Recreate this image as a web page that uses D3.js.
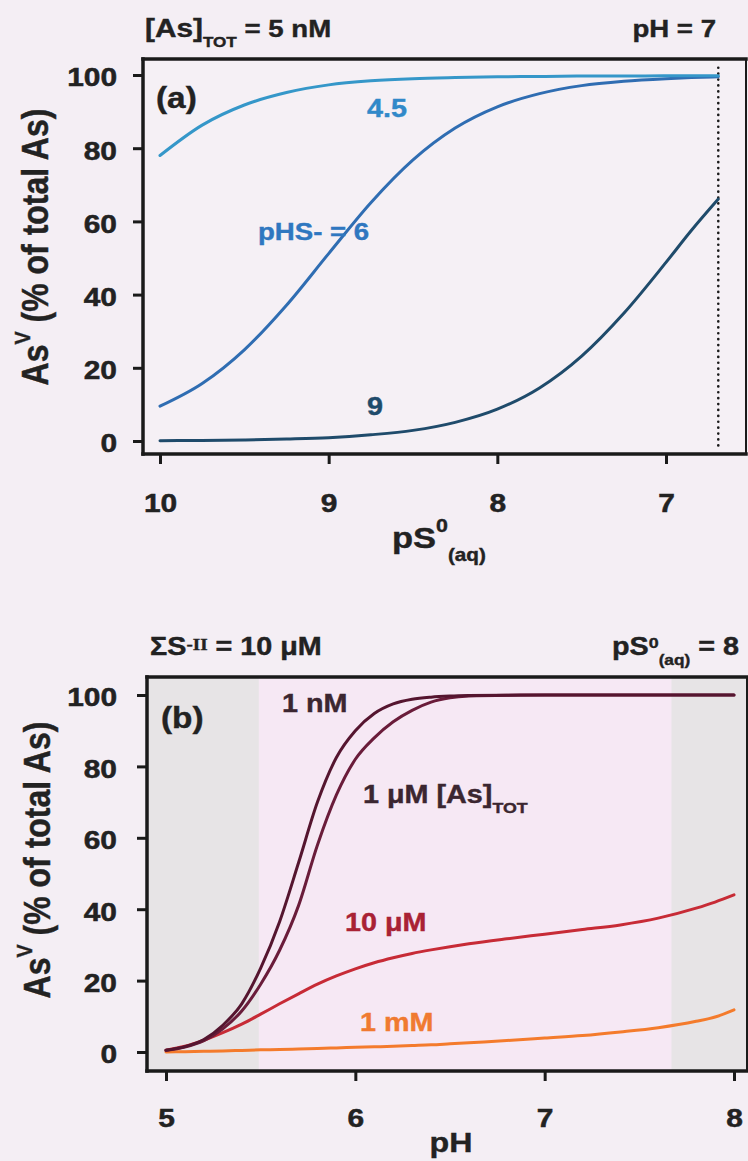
<!DOCTYPE html>
<html>
<head>
<meta charset="utf-8">
<script src="https://cdn.jsdelivr.net/npm/d3@7"></script>
<style>
	body { margin: 0; background: #f4eef4; }
	svg { display: block; font-family: "Liberation Sans", Arial, sans-serif; font-weight: bold; }
</style>
</head>
<body>
<div id="chart"></div>
<script>
// panel (a): AsV vs pS0(aq) at pH 7, three pHS- levels
const pS = [10, 9.75, 9.5, 9.25, 9, 8.75, 8.5, 8.25, 8, 7.75, 7.5, 7.25, 7, 6.85, 6.69];
const asPHS45 = [78.0, 86.3, 91.8, 95.2, 97.3, 98.4, 99.0, 99.3, 99.5, 99.6, 99.7, 99.7, 99.8, 99.8, 99.8];
const asPHS6 = [9.5, 15.7, 24.9, 37.1, 51.2, 65.1, 76.8, 85.5, 91.3, 94.9, 97.1, 98.3, 99.0, 99.3, 99.5];
const asPHS9 = [0.1, 0.17, 0.3, 0.54, 0.9, 1.7, 2.9, 5.1, 8.7, 14.5, 23.2, 34.9, 48.8, 57.5, 66.1];
const pSTicks = [10, 9, 8, 7];
const pctTicks = [0, 20, 40, 60, 80, 100];
const pSLimit = 6.69;

// panel (b): AsV vs pH at pS0(aq) = 8, four [As]TOT levels
const pH = [5, 5.1, 5.2, 5.3, 5.4, 5.5, 5.6, 5.7, 5.8, 5.9, 6, 6.1, 6.2, 6.3, 6.4, 6.5, 6.6, 6.8, 7, 7.2, 7.4, 7.6, 7.8, 7.9, 8];
const as1nM = [0.5, 1.5, 3.5, 7.5, 13.5, 23.5, 36.5, 53, 70, 82.5, 90, 94.8, 97.5, 98.8, 99.4, 99.7, 99.85, 99.95, 100, 100, 100, 100, 100, 100, 100];
const as1uM = [0.5, 1.4, 3.2, 6.5, 11.5, 19, 28.5, 41, 58, 72, 82, 88, 92.5, 95.7, 98, 99.2, 99.7, 99.95, 100, 100, 100, 100, 100, 100, 100];
const as10uM = [0.5, 1.6, 3.3, 5.4, 7.8, 10.6, 13.5, 16.3, 19, 21.3, 23.3, 25, 26.4, 27.6, 28.6, 29.5, 30.3, 31.7, 33, 34.3, 35.6, 37.5, 40.3, 42, 44];
const as1mM = [0, 0.1, 0.2, 0.3, 0.45, 0.6, 0.7, 0.85, 1.0, 1.15, 1.3, 1.45, 1.6, 1.8, 2.0, 2.3, 2.6, 3.2, 3.9, 4.6, 5.6, 6.8, 8.6, 9.8, 11.8];
const pHTicks = [5, 6, 7, 8];
const shadeB = [[4.9, 5.49], [7.67, 8.1]];

const width = 748;
const height = 1161;
const SX = 1.15; // scanned lettering is a bit wider than Arial
const ink = "#1a1a1a";

const svg = d3
	.select("#chart")
	.append("svg")
	.attr("width", width)
	.attr("height", height)
	.style("background", "#f4eef4");

// rich text: parts are [text, dyEm, sizeFactor, family]
function label(x, y, parts, o = {}) {
	const size = o.size || 24;
	const fill = o.fill || "#222";
	const t = svg
		.append("text")
		.attr(
			"transform",
			o.rotate
				? `translate(${x},${y}) rotate(-90) scale(1,${SX})`
				: `translate(${x},${y}) scale(${SX},1)`,
		)
		.attr("text-anchor", o.anchor || "start")
		.attr("font-size", size)
		.attr("fill", fill)
		.attr("stroke", fill)
		.attr("stroke-width", 0.4);
	let shift = 0;
	parts.forEach((p) => {
		const [str, dyEm = 0, sf = 1, fam] = typeof p === "string" ? [p] : p;
		const target = dyEm * size;
		const ts = t.append("tspan").attr("dy", target - shift).text(str);
		if (sf !== 1) ts.attr("font-size", size * sf);
		if (fam) ts.attr("font-family", fam);
		shift = target;
	});
	return t;
}

function frame(x0, y0, x1, y1) {
	const g = svg.append("g").attr("stroke", ink).attr("stroke-linecap", "square");
	g.append("line").attr("x1", x0).attr("x2", x1).attr("y1", y0).attr("y2", y0).attr("stroke-width", 3.5);
	g.append("line").attr("x1", x0).attr("x2", x1).attr("y1", y1).attr("y2", y1).attr("stroke-width", 3.5);
	g.append("line").attr("x1", x0).attr("x2", x0).attr("y1", y0).attr("y2", y1).attr("stroke-width", 3.5);
	g.append("line").attr("x1", x1).attr("x2", x1).attr("y1", y0).attr("y2", y1).attr("stroke-width", 2);
}

function axes(x, y, ticksX, ticksY, box, fmtX) {
	const gx = svg
		.append("g")
		.attr("transform", `translate(0, ${box.y1})`)
		.call(d3.axisBottom(x).tickValues(ticksX).tickSize(10).tickFormat(fmtX));
	const gy = svg
		.append("g")
		.attr("transform", `translate(${box.x0}, 0)`)
		.call(d3.axisLeft(y).tickValues(ticksY).tickSize(10));
	[gx, gy].forEach((g) => {
		g.select(".domain").remove();
		g.selectAll(".tick line").attr("stroke", ink).attr("stroke-width", 3);
		g.selectAll(".tick text")
			.attr("fill", "#222")
			.attr("stroke", "#222")
			.attr("stroke-width", 0.5)
			.attr("font-size", 26)
			.attr("font-weight", "bold")
			.attr("font-family", "Liberation Sans, Arial, sans-serif")
			.attr("transform", `scale(${SX},1)`);
	});
	gx.selectAll(".tick text").attr("y", box.labX).attr("dy", 0);
	gy.selectAll(".tick text").attr("x", -box.labY / SX).attr("dy", "0.42em");
}

function curve(x, y, xs, ys, color) {
	const line = d3
		.line()
		.x((d, i) => x(xs[i]))
		.y((d) => y(d))
		.curve(d3.curveMonotoneX);
	svg
		.append("path")
		.datum(ys)
		.attr("d", line)
		.attr("fill", "none")
		.attr("stroke", color)
		.attr("stroke-width", 3)
		.attr("stroke-linecap", "round");
}

// ---------- panel (a)
const boxA = { x0: 143, y0: 59, x1: 746, y1: 454, labX: 58, labY: 26 };
const xA = d3.scaleLinear().domain([10, 7]).range([160, 666]);
const yA = d3.scaleLinear().domain([0, 100]).range([441, 75]);

svg
	.append("rect")
	.attr("x", boxA.x0)
	.attr("y", boxA.y0)
	.attr("width", boxA.x1 - boxA.x0)
	.attr("height", boxA.y1 - boxA.y0)
	.attr("fill", "#f5f0f5");

// saturation limit of S0(aq)
svg
	.append("line")
	.attr("x1", xA(pSLimit))
	.attr("x2", xA(pSLimit))
	.attr("y1", yA(102))
	.attr("y2", boxA.y1 - 3)
	.attr("stroke", ink)
	.attr("stroke-width", 2.6)
	.attr("stroke-dasharray", "0.1 5.8")
	.attr("stroke-linecap", "round");

curve(xA, yA, pS, asPHS9, "#1f4b6b");
curve(xA, yA, pS, asPHS6, "#2f6db2");
curve(xA, yA, pS, asPHS45, "#3597c9");

frame(boxA.x0, boxA.y0, boxA.x1, boxA.y1);
axes(xA, yA, pSTicks, pctTicks, boxA, d3.format("d"));

label(145, 37, [["[As]", 0, 1.08], ["TOT", 0.4, 0.62], [" = 5 nM", 0]], { size: 24 });
label(716, 37, ["pH = 7"], { size: 24, anchor: "end" });
label(156, 108, ["(a)"], { size: 29 });
label(367, 117, ["4.5"], { size: 25, fill: "#3189c9" });
label(258, 240, ["pHS- = 6"], { size: 24, fill: "#2f77c0" });
label(367, 415, ["9"], { size: 25, fill: "#1f4b6b" });
label(392, 548, ["pS", ["0", -0.55, 0.62], ["(aq)", 0.42, 0.6]], { size: 30 });
label(48, 247, ["As", ["V", -0.5, 0.62], [" (% of total As)", 0]], { size: 32, anchor: "middle", rotate: true });

// ---------- panel (b)
const boxB = { x0: 147, y0: 677, x1: 747, y1: 1071, labX: 56, labY: 30 };
const xB = d3.scaleLinear().domain([5, 8]).range([166, 734]);
const yB = d3.scaleLinear().domain([0, 100]).range([1052, 695]);

svg
	.append("rect")
	.attr("x", boxB.x0)
	.attr("y", boxB.y0)
	.attr("width", boxB.x1 - boxB.x0)
	.attr("height", boxB.y1 - boxB.y0)
	.attr("fill", "#f6e8f4");

svg
	.append("g")
	.selectAll("rect")
	.data(shadeB)
	.enter()
	.append("rect")
	.attr("x", (d) => Math.max(boxB.x0, xB(d[0])))
	.attr("y", boxB.y0)
	.attr("width", (d) => Math.min(boxB.x1, xB(d[1])) - Math.max(boxB.x0, xB(d[0])))
	.attr("height", boxB.y1 - boxB.y0)
	.attr("fill", "#e7e4e6");

curve(xB, yB, pH, as1mM, "#f47b2c");
curve(xB, yB, pH, as10uM, "#c72b36");
curve(xB, yB, pH, as1uM, "#6a1c3a");
curve(xB, yB, pH, as1nM, "#55152f");

frame(boxB.x0, boxB.y0, boxB.x1, boxB.y1);
axes(xB, yB, pHTicks, pctTicks, boxB, d3.format("d"));

label(150, 655, ["ΣS", ["-II", -0.2, 0.66, "Liberation Serif, serif"], [" = 10 μM", 0]], { size: 25 });
label(739, 655, ["pS", ["0", -0.3, 0.62], ["(aq)", 0.4, 0.6], [" = 8", 0]], { size: 25, anchor: "end" });
label(161, 728, ["(b)"], { size: 29 });
label(282, 712, ["1 nM"], { size: 25, fill: "#3b2630" });
label(363, 803, ["1 μM [As]", ["TOT", 0.4, 0.62]], { size: 25, fill: "#3b2630" });
label(345, 931, ["10 μM"], { size: 25, fill: "#a92234" });
label(360, 1031, ["1 mM"], { size: 25, fill: "#f07a30" });
label(451, 1152, ["pH"], { size: 28, anchor: "middle" });
label(50, 860, ["As", ["V", -0.5, 0.62], [" (% of total As)", 0]], { size: 32, anchor: "middle", rotate: true });
</script>
</body>
</html>
